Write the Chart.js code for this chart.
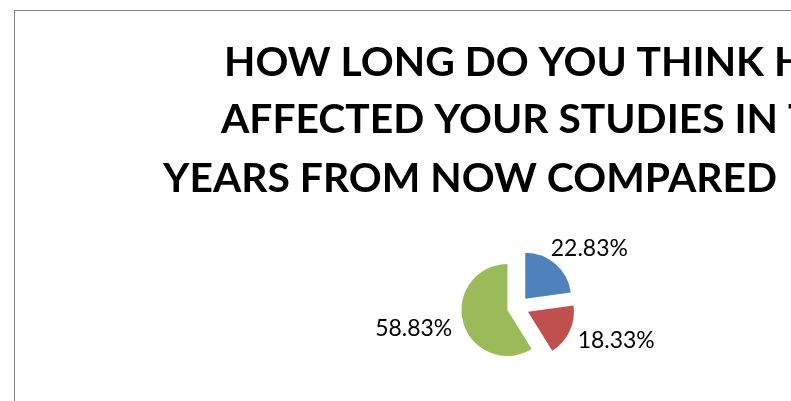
<!DOCTYPE html>
<html>
<head>
<meta charset="utf-8">
<script src="https://cdn.jsdelivr.net/npm/chart.js@4"></script>
<style>
  html, body { margin: 0; padding: 0; background: #ffffff; overflow: hidden; }
  #wrap { width: 791px; height: 401px; position: relative; }
</style>
</head>
<body>
<div id="wrap"><canvas id="chart"></canvas></div>
<script>
// chart data
const categories = ['Option 1', 'Option 2', 'Option 3'];
const shares = [22.83, 18.33, 58.83];
const sliceColors = ['#4F81BD', '#C0504D', '#9BBB59'];
const titleLines = [
  'HOW LONG DO YOU THINK H',
  'AFFECTED YOUR STUDIES IN T',
  'YEARS FROM NOW COMPARED'
];

const EXPLODE = 11;

// white page + grey frame (the frame runs past the visible edge)
const framePlugin = {
  id: 'frame',
  beforeDraw(chart) {
    const ctx = chart.ctx;
    ctx.save();
    ctx.fillStyle = '#ffffff';
    ctx.fillRect(0, 0, chart.width, chart.height);
    ctx.strokeStyle = '#868686';
    ctx.lineWidth = 1;
    ctx.strokeRect(14.5, 10.5, 2000, 2000);
    ctx.restore();
  }
};

// title, cut off on the right like the original
const titlePlugin = {
  id: 'bigTitle',
  afterDraw(chart) {
    const ctx = chart.ctx;
    ctx.save();
    ctx.fillStyle = '#000000';
    ctx.font = 'bold 40px Lato';
    ctx.textBaseline = 'alphabetic';
    // squeeze to Calibri-like width using the last (complete) line
    const sx = 614 / ctx.measureText(titleLines[2]).width;
    const starts = [224, 221, 163];
    const baselines = [76, 133, 192];
    titleLines.forEach((line, i) => {
      ctx.save();
      ctx.translate(starts[i], baselines[i]);
      ctx.scale(sx, 1);
      ctx.fillText(line, 0, 0);
      ctx.restore();
    });
    ctx.restore();
  }
};

// pull every slice out along its middle angle
const explodePlugin = {
  id: 'explode',
  afterUpdate(chart) {
    chart.getDatasetMeta(0).data.forEach(arc => {
      const mid = (arc.startAngle + arc.endAngle) / 2;
      arc.$cx = arc.x;
      arc.$cy = arc.y;
      arc.x += Math.cos(mid) * EXPLODE;
      arc.y += Math.sin(mid) * EXPLODE;
    });
  }
};

// outside-end percentage labels
const labelPlugin = {
  id: 'pctLabels',
  afterDatasetsDraw(chart) {
    const ctx = chart.ctx;
    ctx.save();
    ctx.font = '24px Lato';
    ctx.fillStyle = '#000000';
    ctx.textAlign = 'center';
    ctx.textBaseline = 'middle';
    chart.getDatasetMeta(0).data.forEach((arc, i) => {
      const mid = (arc.startAngle + arc.endAngle) / 2;
      const dx = Math.cos(mid), dy = Math.sin(mid);
      const txt = shares[i].toFixed(2) + '%';
      const w = Math.min(ctx.measureText(txt).width, 77);
      const h = 17;
      const d = arc.outerRadius + EXPLODE + 13;
      const x = arc.$cx + dx * (d + w / 2);
      const y = arc.$cy + dy * (d + h / 2);
      ctx.fillText(txt, x, y, 77);
    });
    ctx.restore();
  }
};

new Chart(document.getElementById('chart'), {
  type: 'pie',
  data: {
    labels: categories,
    datasets: [{
      data: shares,
      backgroundColor: sliceColors,
      borderWidth: 0
    }]
  },
  options: {
    responsive: true,
    maintainAspectRatio: false,
    animation: false,
    radius: 46,
    layout: { padding: { left: 245, right: 0, top: 213, bottom: 0 } },
    plugins: {
      legend: { display: false },
      title: { display: false },
      tooltip: { enabled: false }
    }
  },
  plugins: [framePlugin, explodePlugin, labelPlugin, titlePlugin]
});
</script>
</body>
</html>
